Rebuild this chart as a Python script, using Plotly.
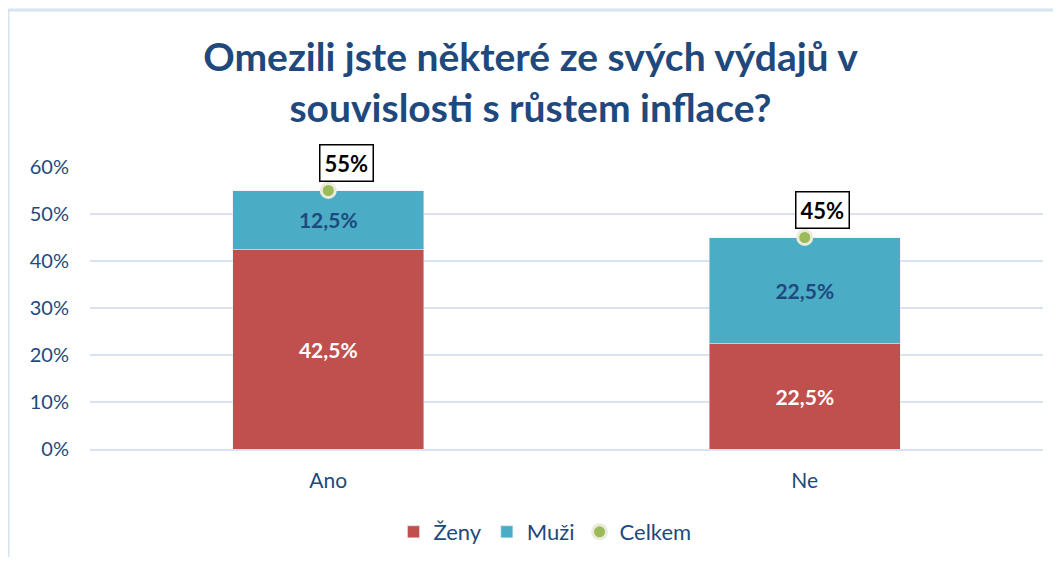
import plotly.graph_objects as go

categories = ["Ano", "Ne"]
zeny = [0.425, 0.225]
muzi = [0.125, 0.225]
celkem = [0.55, 0.45]
y_ticks = [0, 0.1, 0.2, 0.3, 0.4, 0.5, 0.6]
y_tick_labels = ["0%", "10%", "20%", "30%", "40%", "50%", "60%"]

FONT = "Lato, 'Open Sans', sans-serif"
DARK = "#1F497D"

W, H = 1045, 549  # page body adds 8px margin around the figure

fig = go.Figure()
fig.add_trace(go.Bar(
    name="Ženy", x=categories, y=zeny, marker=dict(color="#C0504D"),
    texttemplate="%{y:.1%}", textposition="inside", insidetextanchor="middle",
    textfont=dict(color="white", size=21, family=FONT, weight="bold"),
))
fig.add_trace(go.Bar(
    name="Muži", x=categories, y=muzi, marker=dict(color="#4BACC6"),
    texttemplate="%{y:.1%}", textposition="inside", insidetextanchor="middle",
    textfont=dict(color=DARK, size=21, family=FONT, weight="bold"),
))
fig.add_trace(go.Scatter(
    name="Celkem", x=categories, y=celkem, mode="markers",
    marker=dict(color="#9BBB59", size=14, line=dict(color="#EBEBDC", width=3)),
))

for c, v in zip(categories, celkem):
    fig.add_annotation(
        x=c, y=v, text="<b>%d%%</b>" % round(v * 100), showarrow=False,
        xshift=18, yshift=28, font=dict(size=22, color="black", family=FONT),
        bordercolor="black", borderwidth=1.5, borderpad=4, bgcolor="white",
    )

fig.add_shape(type="rect", xref="paper", yref="paper",
              x0=-0.086, x1=2, y0=-2, y1=1.5567,
              line=dict(color="#D6E3F3", width=3), layer="below")

fig.update_layout(
    width=W, height=H,
    barmode="stack", bargap=0.6,
    separators=",.",
    paper_bgcolor="white", plot_bgcolor="white",
    margin=dict(l=82, r=9.5, t=159, b=108),
    title=dict(
        text="<b>Omezili jste některé ze svých výdajů v<br>souvislosti s růstem inflace?</b>",
        x=0.5, xanchor="center", xref="container",
        y=1 - 63 / H, yanchor="middle", yref="container",
        font=dict(size=39, color=DARK, family=FONT),
    ),
    legend=dict(orientation="h", xref="container", yref="container",
                x=537 / W, xanchor="center", y=(H - 524) / H, yanchor="middle",
                itemwidth=30,
                font=dict(size=22, color=DARK, family=FONT), traceorder="normal"),
    showlegend=True,
    font=dict(family=FONT, color=DARK),
)
fig.update_yaxes(range=[0, 0.6], tickvals=y_ticks, ticktext=y_tick_labels,
                 showgrid=True, gridcolor="#D9E2F3", gridwidth=2,
                 zeroline=False, showline=False, automargin=False,
                 ticks="outside", ticklen=16, tickcolor="rgba(0,0,0,0)",
                 tickfont=dict(size=20, color=DARK, family=FONT))
fig.update_xaxes(showline=True, linecolor="#D9E2F3", linewidth=2, automargin=False,
                 ticks="outside", ticklen=12, tickcolor="rgba(0,0,0,0)",
                 tickfont=dict(size=21, color=DARK, family=FONT))

fig.write_html("out.html")
